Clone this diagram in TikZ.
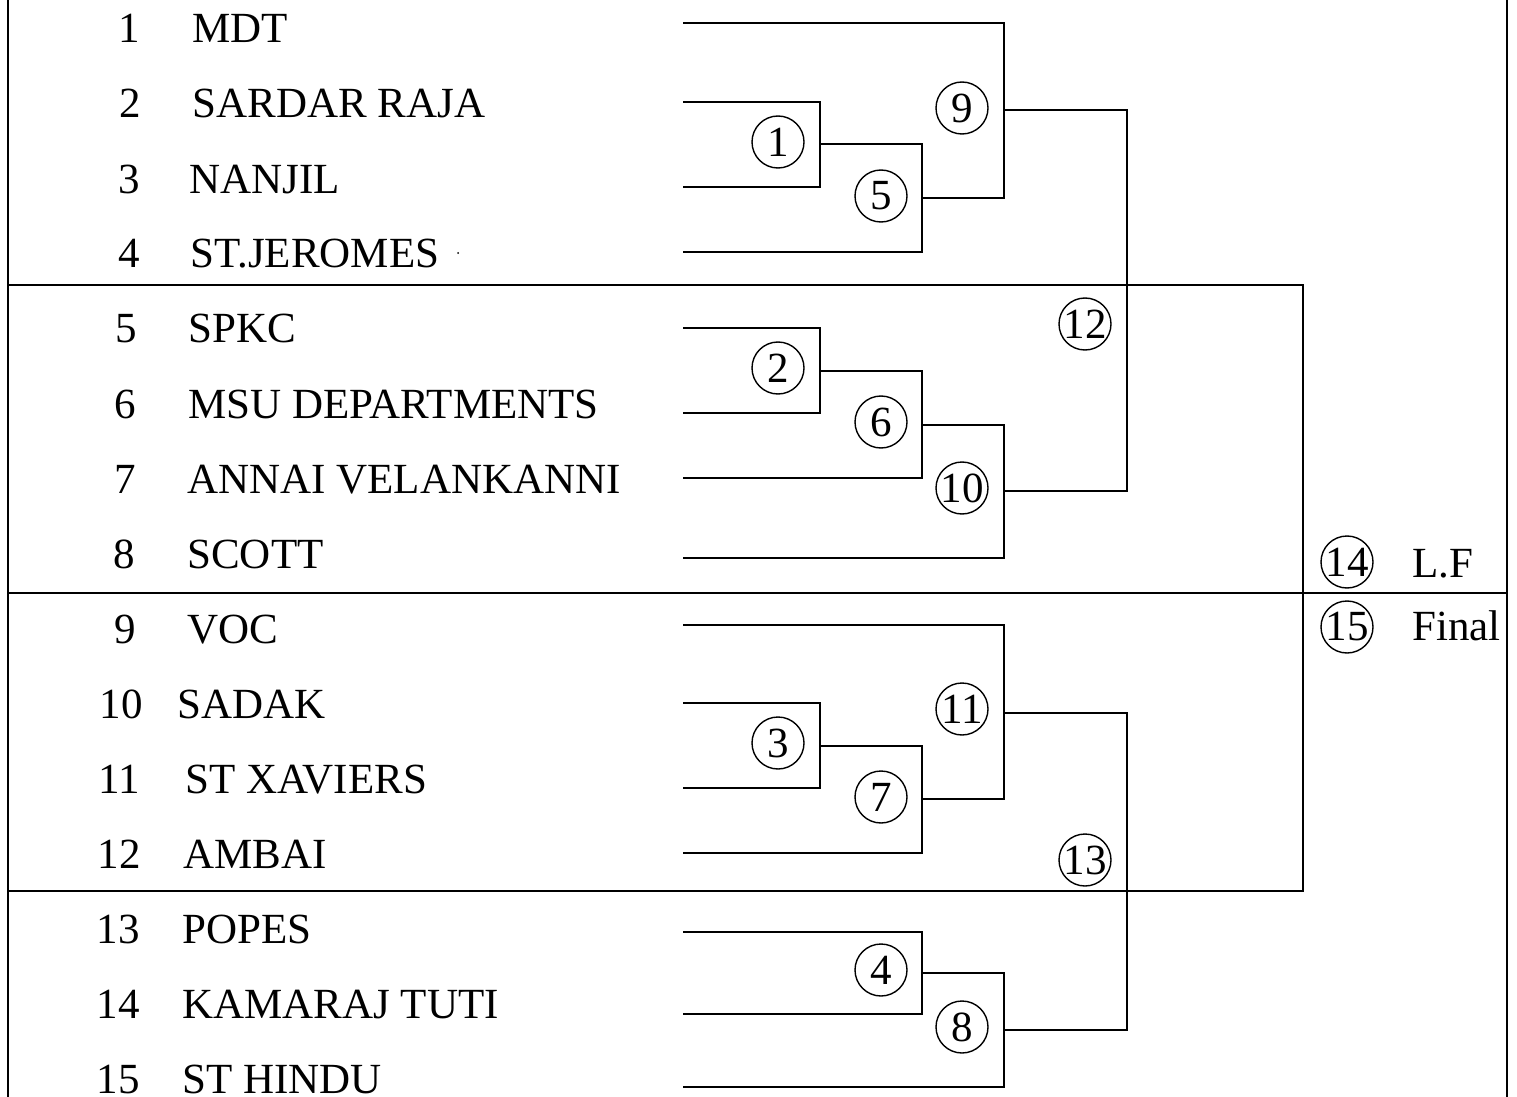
\documentclass[tikz,border=0pt]{standalone}
\usepackage{fontspec}
\setmainfont{Liberation Serif}

\begin{document}
\begin{tikzpicture}[x=0.5pt,y=0.5pt,yscale=-1,xscale=1,
  rnd/.style={draw,circle,line width=0.7pt,minimum size=26pt,inner sep=0pt,font=\fontsize{21.5}{21.5}\selectfont},
  lbl/.style={inner sep=0pt,font=\fontsize{21.5}{21.5}\selectfont},
  brk/.style={line width=1pt},
  frm/.style={line width=1.2pt}]
\useasboundingbox (0,0) rectangle (1517,1097);

%Text: team list
\foreach \i/\nx/\tx/\name in {1/140/192/MDT,2/141/192/SARDAR RAJA,3/140/189/NANJIL,4/140/190/ST.JEROMES,
  5/137/188/SPKC,6/136/188/MSU DEPARTMENTS,7/136/187/ANNAI VELANKANNI,8/135/187/SCOTT,
  9/136/187/VOC,10/143/177/SADAK,11/140/185/ST XAVIERS,12/141/183/AMBAI,
  13/140/182/POPES,14/140/182/KAMARAJ TUTI,15/140/182/ST HINDU}
{
  \node[lbl,anchor=base east] (n\i) at (\nx,{43+75*(\i-1)}) {\i};
  \node[lbl,anchor=base west] (t\i) at (\tx,{43+75*(\i-1)}) {\name};
}
\fill (458,253) circle (1);

%Coordinates: line starts
\foreach \i/\y in {1/23,2/102,3/187,4/252,5/328,6/413,7/478,8/558,
  9/625,10/703,11/788,12/853,13/932,14/1014,15/1087}
  \coordinate (a\i) at (683,\y);

%Coordinates: match outputs
\coordinate (o1) at (820,144);
\coordinate (o5) at (922,198);
\coordinate (o9) at (1004,110);
\coordinate (o2) at (820,371);
\coordinate (o6) at (922,425);
\coordinate (o10) at (1004,491);
\coordinate (o3) at (820,746);
\coordinate (o7) at (922,799);
\coordinate (o11) at (1004,713);
\coordinate (o4) at (922,973);
\coordinate (o8) at (1004,1030);
\coordinate (o12) at (1127,285);
\coordinate (o13) at (1127,891);

%Shape: Circle (match numbers)
\node[rnd] (m1) at (778,142) {1};
\node[rnd] (m5) at (881,196) {5};
\node[rnd] (m9) at (962,108) {9};
\node[rnd] (m2) at (778,368) {2};
\node[rnd] (m6) at (881,422) {6};
\node[rnd] (m10) at (962,488) {10};
\node[rnd] (m12) at (1085,324) {12};
\node[rnd] (m11) at (962,709) {11};
\node[rnd] (m3) at (778,743) {3};
\node[rnd] (m7) at (881,797) {7};
\node[rnd] (m13) at (1085,860) {13};
\node[rnd] (m4) at (881,970) {4};
\node[rnd] (m8) at (962,1027) {8};
\node[rnd] (m14) at (1347,562) {14};
\node[rnd] (m15) at (1347,627) {15};
\node[lbl,anchor=base west] (lf) at (1412,577) {L.F};
\node[lbl,anchor=base west] (fin) at (1412,640) {Final};

%Straight Lines: brackets
\draw[brk] (a2) -| (o1);
\draw[brk] (a3) -| (o1);
\draw[brk] (o1) -| (o5);
\draw[brk] (a4) -| (o5);
\draw[brk] (a1) -| (o9);
\draw[brk] (o5) -| (o9);
\draw[brk] (a5) -| (o2);
\draw[brk] (a6) -| (o2);
\draw[brk] (o2) -| (o6);
\draw[brk] (a7) -| (o6);
\draw[brk] (o6) -| (o10);
\draw[brk] (a8) -| (o10);
\draw[brk] (o9) -| (o12);
\draw[brk] (o10) -| (o12);
\draw[brk] (a9) -| (o11);
\draw[brk] (a10) -| (o3);
\draw[brk] (a11) -| (o3);
\draw[brk] (o3) -| (o7);
\draw[brk] (a12) -| (o7);
\draw[brk] (o7) -| (o11);
\draw[brk] (a13) -| (o4);
\draw[brk] (a14) -| (o4);
\draw[brk] (o4) -| (o8);
\draw[brk] (a15) -| (o8);
\draw[brk] (o11) -| (o13);
\draw[brk] (o8) -| (o13);

%Straight Lines: frame
\coordinate (w1) at (8,285);
\coordinate (w2) at (8,593);
\coordinate (w3) at (8,891);
\coordinate (e1) at (1303,285);
\coordinate (e2) at (1507,593);
\coordinate (e3) at (1303,891);
\draw[frm] (w1) -- (e1) -- (e3) -- (w3);
\draw[frm] (w2) -- (e2);
\draw[frm] (8,0) -- (8,1097);
\draw[frm] (1507,0) -- (1507,1097);

\end{tikzpicture}
\end{document}
